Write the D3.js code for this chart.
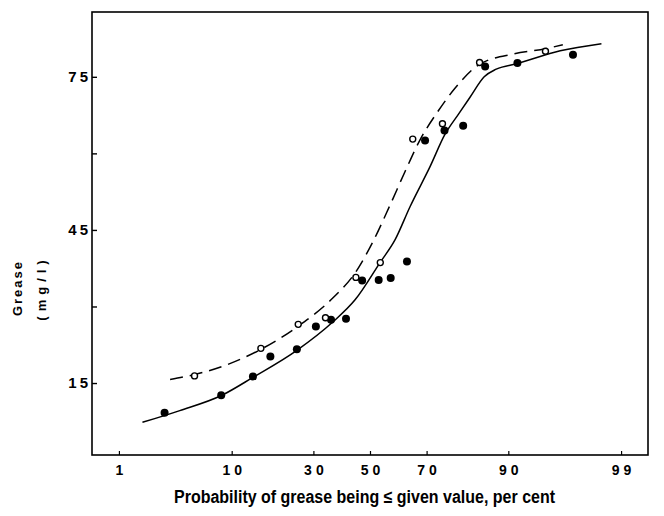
<!DOCTYPE html>
<html>
<head>
<meta charset="utf-8">
<script src="https://cdn.jsdelivr.net/npm/d3@7"></script>
<style>
  body { margin: 0; background: #fff; }
  svg { display: block; }
</style>
</head>
<body>
<div id="chart"></div>
<script>
// Probability (per cent) tick labels on the x axis, grease values on the y axis.
const xTicks = [1, 10, 30, 50, 70, 90, 99];
const yTicks = [15, 30, 45, 60, 75];
const yLabels = [15, 45, 75];

// Filled circles.
const filledP = [2.85, 8.4, 13.9, 17.8, 24.9, 30.8, 35.9, 41.2, 47.1, 53.2, 57.6, 63.4, 69.5, 75.5, 80.6, 85.7, 91.4, 97.0];
const filledV = [9.2, 12.6, 16.3, 20.2, 21.6, 26.1, 27.4, 27.6, 35.1, 35.2, 35.6, 38.8, 62.5, 64.5, 65.4, 77.0, 77.7, 79.3];

// Open circles.
const openP = [5.2, 15.6, 25.3, 34.0, 44.8, 53.8, 65.4, 74.9, 84.5, 94.8];
const openV = [16.4, 21.8, 26.5, 27.8, 35.7, 38.6, 62.8, 65.8, 77.8, 80.0];

// Solid fitted curve.
const solidP = [1.75, 3.9, 8.5, 13.9, 24.9, 36.6, 44.5, 53.7, 59.2, 64.5, 71.1, 75.7, 79.3, 82.3, 85.5, 87.9, 91.4, 96.1, 98.4];
const solidV = [7.3, 9.6, 12.6, 16.1, 21.4, 27.0, 31.3, 38.6, 43.1, 49.6, 57.4, 63.8, 67.6, 71.0, 75.0, 76.5, 77.6, 80.1, 81.5];

// Dashed fitted curve.
const dashP = [3.2, 5.7, 9.7, 15.6, 25.2, 36.6, 44.8, 51.1, 57.4, 62.7, 67.9, 73.3, 78.5, 84.4, 90.9, 94.8, 96.3];
const dashV = [15.7, 16.9, 18.8, 21.6, 26.1, 31.7, 36.8, 42.7, 49.9, 56.4, 62.7, 68.0, 72.8, 77.4, 79.5, 80.5, 81.3];

// Inverse of the normal distribution (Acklam), for the probability axis.
function probit(p) {
  const a = [-39.69683028665376, 220.9460984245205, -275.9285104469687, 138.357751867269, -30.66479806614716, 2.506628277459239];
  const b = [-54.47609879822406, 161.5858368580409, -155.6989798598866, 66.80131188771972, -13.28068155288572];
  const c = [-0.007784894002430293, -0.3223964580411365, -2.400758277161838, -2.549732539343734, 4.374664141464968, 2.938163982698783];
  const d = [0.007784695709041462, 0.3224671290700398, 2.445134137142996, 3.754408661907416];
  const plow = 0.02425;
  let q, r;
  if (p < plow) {
    q = Math.sqrt(-2 * Math.log(p));
    return (((((c[0]*q+c[1])*q+c[2])*q+c[3])*q+c[4])*q+c[5]) / ((((d[0]*q+d[1])*q+d[2])*q+d[3])*q+1);
  }
  if (p > 1 - plow) {
    q = Math.sqrt(-2 * Math.log(1 - p));
    return -(((((c[0]*q+c[1])*q+c[2])*q+c[3])*q+c[4])*q+c[5]) / ((((d[0]*q+d[1])*q+d[2])*q+d[3])*q+1);
  }
  q = p - 0.5;
  r = q * q;
  return (((((a[0]*r+a[1])*r+a[2])*r+a[3])*r+a[4])*r+a[5])*q / (((((b[0]*r+b[1])*r+b[2])*r+b[3])*r+b[4])*r+1);
}

const width = 664, height = 516;
const margin = { left: 92, right: 648, top: 12, bottom: 455 };

const svg = d3.select("#chart")
  .append("svg")
  .attr("width", width)
  .attr("height", height);

// Scale on the normal deviate, from 0.5 % to 99.5 %.
const xz = d3.scaleLinear()
  .domain([probit(0.005), probit(0.995)])
  .range([margin.left, margin.right]);
const x = p => xz(probit(p / 100));

const y = d3.scaleLinear()
  .domain([0.9, 87.7])
  .range([margin.bottom, margin.top]);

// Frame.
svg.append("rect")
  .attr("x", margin.left)
  .attr("y", margin.top)
  .attr("width", margin.right - margin.left)
  .attr("height", margin.bottom - margin.top)
  .attr("fill", "none")
  .attr("stroke", "#000")
  .attr("stroke-width", 1.6);

// x axis.
const xAxis = d3.axisBottom(xz)
  .tickValues(xTicks.map(p => probit(p / 100)))
  .tickFormat((d, i) => xTicks[i])
  .tickSizeInner(-4)
  .tickSizeOuter(0)
  .tickPadding(10);
const gx = svg.append("g")
  .attr("transform", `translate(0,${margin.bottom})`)
  .call(xAxis);
gx.select(".domain").remove();
gx.selectAll(".tick line").attr("stroke", "#000").attr("stroke-width", 1.2);
gx.selectAll(".tick text")
  .attr("fill", "#000")
  .attr("dx", "2")
  .style("font-family", "'Liberation Sans', Arial, sans-serif")
  .style("font-size", "14px")
  .style("font-weight", "bold")
  .style("letter-spacing", "4px");

// y axis.
const yAxis = d3.axisLeft(y)
  .tickValues(yTicks)
  .tickFormat(d => (yLabels.includes(d) ? d : ""))
  .tickSizeInner(-5)
  .tickSizeOuter(0)
  .tickPadding(0);
const gy = svg.append("g")
  .attr("transform", `translate(${margin.left},0)`)
  .call(yAxis);
gy.select(".domain").remove();
gy.selectAll(".tick line").attr("stroke", "#000").attr("stroke-width", 1.4);
gy.selectAll(".tick text")
  .attr("fill", "#000")
  .attr("x", -1)
  .style("font-family", "'Liberation Sans', Arial, sans-serif")
  .style("font-size", "15px")
  .style("font-weight", "bold")
  .style("letter-spacing", "3px");

// Axis titles.
svg.append("text")
  .attr("x", 174)
  .attr("y", 503)
  .attr("textLength", 381)
  .attr("lengthAdjust", "spacingAndGlyphs")
  .style("font-family", "'Liberation Sans', Arial, sans-serif")
  .style("font-size", "18px")
  .style("font-weight", "bold")
  .text("Probability of grease being \u2264 given value, per cent");

svg.append("text")
  .attr("transform", "translate(22,288) rotate(-90)")
  .attr("text-anchor", "middle")
  .style("font-family", "'Liberation Sans', Arial, sans-serif")
  .style("font-size", "13px")
  .style("font-weight", "bold")
  .style("letter-spacing", "2px")
  .text("Grease");

svg.append("text")
  .attr("transform", "translate(46,288) rotate(-90)")
  .attr("text-anchor", "middle")
  .style("font-family", "'Liberation Sans', Arial, sans-serif")
  .style("font-size", "13px")
  .style("font-weight", "bold")
  .style("letter-spacing", "5px")
  .text("(mg/l)");

// Curves.
const line = d3.line()
  .x(d => x(d[0]))
  .y(d => y(d[1]))
  .curve(d3.curveMonotoneX);

svg.append("path")
  .datum(d3.zip(solidP, solidV))
  .attr("d", line)
  .attr("fill", "none")
  .attr("stroke", "#000")
  .attr("stroke-width", 1.5);

svg.append("path")
  .datum(d3.zip(dashP, dashV))
  .attr("d", line)
  .attr("fill", "none")
  .attr("stroke", "#000")
  .attr("stroke-width", 1.5)
  .attr("stroke-dasharray", "13,7");

// Points.
svg.append("g")
  .selectAll("circle")
  .data(d3.zip(filledP, filledV))
  .join("circle")
  .attr("cx", d => x(d[0]))
  .attr("cy", d => y(d[1]))
  .attr("r", 4)
  .attr("fill", "#000");

svg.append("g")
  .selectAll("circle")
  .data(d3.zip(openP, openV))
  .join("circle")
  .attr("cx", d => x(d[0]))
  .attr("cy", d => y(d[1]))
  .attr("r", 3)
  .attr("fill", "#fff")
  .attr("stroke", "#000")
  .attr("stroke-width", 1.4);
</script>
</body>
</html>
